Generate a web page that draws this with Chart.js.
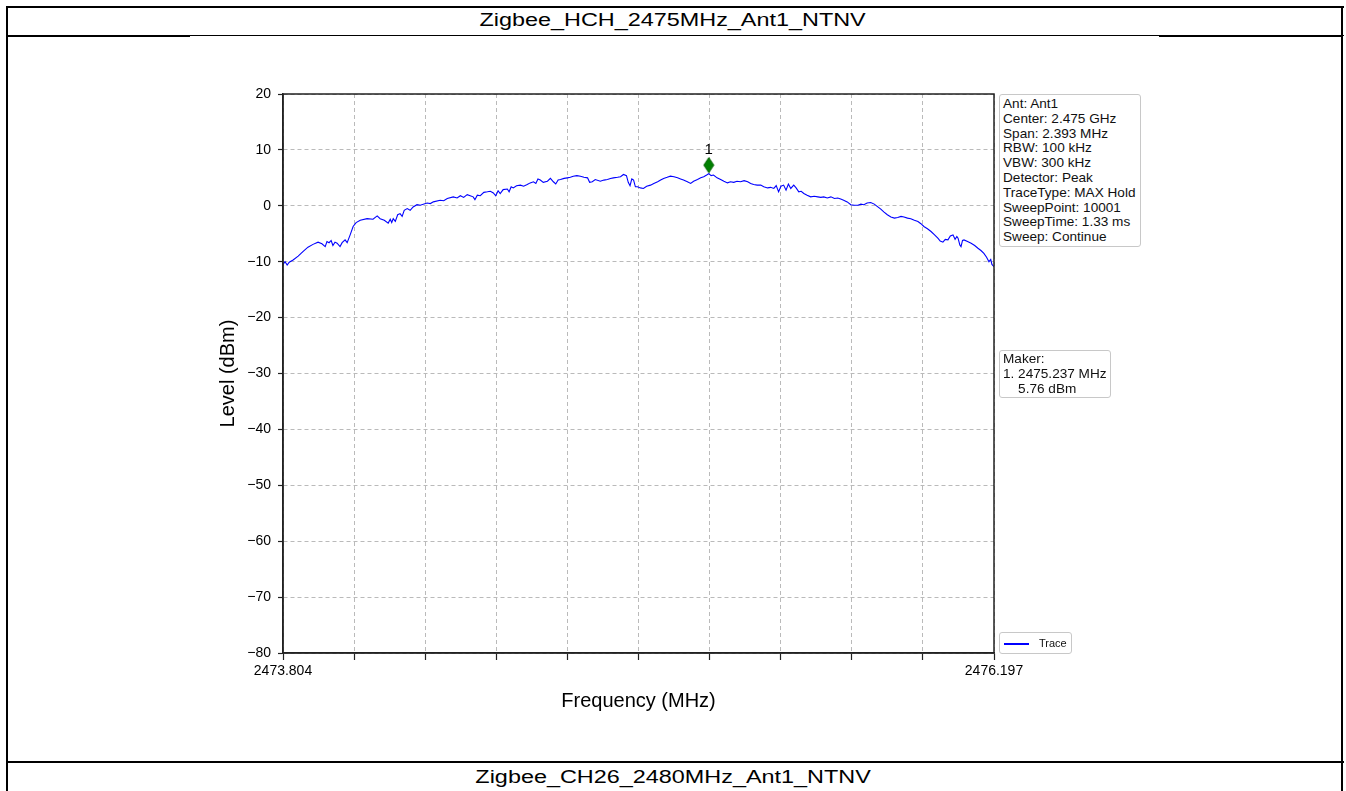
<!DOCTYPE html>
<html>
<head>
<meta charset="utf-8">
<script src="https://cdn.jsdelivr.net/npm/chart.js@4.4.0/dist/chart.umd.min.js"></script>
<style>
body { margin: 0; background: #fff; font-family: Arial, "Liberation Sans", sans-serif; }
#page { position: relative; width: 1346px; height: 791px; overflow: hidden; }
.ln { position: absolute; background: #000; }
.ttl { position: absolute; left: 0; width: 1346px; text-align: center; font-size: 18px; color: #000; }
.ttl span { display: inline-block; transform: scaleX(1.3); }
#wrap { position: absolute; left: 150px; top: 60px; width: 880px; height: 680px; }
.box { position: absolute; box-sizing: border-box; border: 1px solid #c8c8c8; border-radius: 3px; background: #fff;
  font-size: 13.6px; line-height: 14.8px; color: #111; white-space: pre; padding-left: 3px; }
</style>
</head>
<body>
<div id="page">
  <div class="ln" style="left:6px;top:6px;width:1338px;height:2px"></div>
  <div class="ln" style="left:6px;top:6px;width:2px;height:790px"></div>
  <div class="ln" style="left:1341px;top:6px;width:2px;height:790px"></div>
  <div class="ln" style="left:6px;top:35px;width:1338px;height:1px"></div>
  <div class="ln" style="left:6px;top:35px;width:184px;height:2px"></div>
  <div class="ln" style="left:1159px;top:35px;width:184px;height:2px"></div>
  <div class="ln" style="left:6px;top:761px;width:1338px;height:2px"></div>
  <div class="ttl" style="top:10px"><span>Zigbee_HCH_2475MHz_Ant1_NTNV</span></div>
  <div class="ttl" style="top:767px"><span>Zigbee_CH26_2480MHz_Ant1_NTNV</span></div>

  <div id="wrap"><canvas id="spec"></canvas></div>

  <div class="box" style="left:999px;top:94px;width:142px;height:153px;padding-top:2px">Ant: Ant1
Center: 2.475 GHz
Span: 2.393 MHz
RBW: 100 kHz
VBW: 300 kHz
Detector: Peak
TraceType: MAX Hold
SweepPoint: 10001
SweepTime: 1.33 ms
Sweep: Continue</div>
  <div class="box" style="left:999px;top:350px;width:112px;height:48px;padding-top:1px">Maker:
1. 2475.237 MHz
    5.76 dBm</div>
  <div class="box" style="left:999px;top:632px;width:73px;height:22px">
    <div style="position:absolute;left:4px;top:10px;width:25px;height:1.5px;background:#0000ff"></div>
    <div style="position:absolute;left:39px;top:3px;font-size:11px;line-height:14px">Trace</div>
  </div>
</div>

<script>
// trace (MHz / dBm)
const traceFreq = [
 2473.804, 2473.811, 2473.818, 2473.825, 2473.838, 2473.855, 2473.871, 2473.888, 2473.905, 2473.922,
 2473.935, 2473.946, 2473.952, 2473.959, 2473.966, 2473.972, 2473.979, 2473.986, 2473.996, 2474.003,
 2474.013, 2474.020, 2474.030, 2474.040, 2474.050, 2474.064, 2474.087, 2474.107, 2474.121, 2474.131,
 2474.145, 2474.158, 2474.165, 2474.170, 2474.175, 2474.182, 2474.190, 2474.198, 2474.205, 2474.212,
 2474.222, 2474.232, 2474.242, 2474.255, 2474.266, 2474.289, 2474.300, 2474.310, 2474.333, 2474.345,
 2474.357, 2474.377, 2474.390, 2474.401, 2474.412, 2474.424, 2474.434, 2474.444, 2474.450, 2474.458,
 2474.468, 2474.480, 2474.492, 2474.502, 2474.512, 2474.520, 2474.528, 2474.535, 2474.545, 2474.559,
 2474.565, 2474.572, 2474.579, 2474.590, 2474.603, 2474.614, 2474.626, 2474.636, 2474.647, 2474.655,
 2474.662, 2474.670, 2474.680, 2474.694, 2474.704, 2474.714, 2474.722, 2474.730, 2474.738, 2474.750,
 2474.761, 2474.771, 2474.781, 2474.793, 2474.805, 2474.817, 2474.829, 2474.836, 2474.845, 2474.855,
 2474.872, 2474.884, 2474.896, 2474.906, 2474.916, 2474.930, 2474.940, 2474.950, 2474.960, 2474.966,
 2474.972, 2474.978, 2474.984, 2474.990, 2474.997, 2475.007, 2475.017, 2475.028, 2475.041, 2475.052,
 2475.065, 2475.075, 2475.085, 2475.097, 2475.108, 2475.120, 2475.132, 2475.142, 2475.152, 2475.165,
 2475.176, 2475.186, 2475.199, 2475.210, 2475.220, 2475.230, 2475.237, 2475.245, 2475.253, 2475.265,
 2475.277, 2475.288, 2475.300, 2475.310, 2475.321, 2475.332, 2475.344, 2475.356, 2475.368, 2475.378,
 2475.388, 2475.400, 2475.412, 2475.422, 2475.435, 2475.445, 2475.456, 2475.464, 2475.472, 2475.480,
 2475.489, 2475.497, 2475.505, 2475.513, 2475.523, 2475.531, 2475.540, 2475.548, 2475.557, 2475.568,
 2475.580, 2475.592, 2475.604, 2475.614, 2475.624, 2475.636, 2475.648, 2475.660, 2475.671, 2475.681,
 2475.691, 2475.703, 2475.715, 2475.727, 2475.739, 2475.749, 2475.759, 2475.770, 2475.782, 2475.794,
 2475.806, 2475.816, 2475.826, 2475.838, 2475.850, 2475.862, 2475.873, 2475.884, 2475.894, 2475.906,
 2475.917, 2475.929, 2475.941, 2475.951, 2475.961, 2475.973, 2475.985, 2475.997, 2476.008, 2476.016,
 2476.025, 2476.033, 2476.042, 2476.050, 2476.059, 2476.066, 2476.072, 2476.076, 2476.082, 2476.086,
 2476.091, 2476.096, 2476.108, 2476.120, 2476.132, 2476.143, 2476.153, 2476.163, 2476.172, 2476.180,
 2476.186, 2476.190, 2476.197
]
const traceLevel = [
 -10.5, -10.0, -10.6, -10.1, -9.7, -9.0, -8.2, -7.4, -6.9, -6.5,
 -6.8, -7.3, -6.4, -6.6, -6.2, -7.1, -6.5, -6.7, -7.3, -6.6,
 -6.1, -6.6, -5.2, -3.7, -3.0, -2.6, -2.3, -2.4, -1.8, -2.3,
 -2.6, -3.1, -2.4, -3.0, -2.3, -2.8, -1.6, -1.4, -1.9, -0.8,
 -0.5, -0.8, -0.2, 0.2, 0.1, 0.5, 0.4, 0.7, 1.0, 0.9,
 1.3, 1.6, 1.4, 1.8, 1.5, 2.0, 1.8, 1.6, 1.1, 1.9,
 1.8, 2.4, 2.5, 2.6, 2.3, 1.8, 2.7, 2.2, 2.9, 3.0,
 2.5, 3.4, 3.2, 3.6, 3.7, 3.5, 3.8, 4.1, 4.3, 4.0,
 4.8, 4.6, 4.2, 4.4, 4.9, 4.3, 3.9, 4.6, 4.7, 4.9,
 5.0, 5.1, 5.3, 5.4, 5.3, 5.1, 5.0, 4.2, 4.3, 4.7,
 4.4, 4.6, 4.7, 4.9, 5.0, 5.1, 5.2, 5.6, 5.4, 4.2,
 3.6, 4.8, 4.6, 3.4, 3.4, 3.2, 3.1, 3.5, 3.7, 4.0,
 4.3, 4.6, 4.9, 5.1, 5.3, 5.2, 5.0, 4.8, 4.6, 4.3,
 4.0, 4.4, 4.7, 5.0, 5.2, 5.5, 5.76, 5.4, 5.5, 5.0,
 4.7, 4.4, 4.1, 4.3, 4.2, 4.4, 4.3, 4.5, 4.3, 4.0,
 3.8, 3.7, 3.7, 3.4, 3.2, 3.3, 3.1, 3.6, 2.5, 3.5,
 3.7, 2.8, 3.9, 3.1, 3.7, 3.2, 2.5, 2.6, 2.2, 1.9,
 1.6, 1.7, 1.6, 1.5, 1.6, 1.4, 1.6, 1.3, 1.4, 1.2,
 1.0, 0.7, 0.2, 0.1, 0.1, 0.3, 0.2, 0.5, 0.6, 0.3,
 -0.2, -0.6, -1.1, -1.6, -2.0, -2.2, -2.1, -1.9, -2.0, -2.2,
 -2.3, -2.6, -2.8, -3.2, -3.7, -4.1, -4.6, -5.2, -5.8, -6.3,
 -6.5, -6.0, -6.1, -5.4, -5.2, -6.0, -5.5, -5.8, -7.0, -7.3,
 -6.2, -6.1, -6.4, -6.7, -7.1, -7.6, -8.0, -8.5, -9.2, -10.0,
 -9.6, -10.5, -10.9
]

const markerFreq = [2475.237]
const markerLevel = [5.76]
const markerNames = ['1']

const freqTicks = [2473.804, 2474.0433, 2474.2826, 2474.5219, 2474.7612, 2475.0005,
                   2475.2398, 2475.4791, 2475.7184, 2475.9577, 2476.197]
const freqTickLabels = ['2473.804', '', '', '', '', '', '', '', '', '', '2476.197']
const levelMin = -80
const levelMax = 20

// diamond drawn a little above the marked point, like the reference
function diamondImg() {
    const c = document.createElement('canvas')
    c.width = 12
    c.height = 36
    const g = c.getContext('2d')
    const cx = 6, cy = 9.5
    g.fillStyle = '#008000'
    g.strokeStyle = '#006400'
    g.beginPath()
    g.moveTo(cx, cy - 7.5)
    g.lineTo(cx + 5, cy)
    g.lineTo(cx, cy + 7.5)
    g.lineTo(cx - 5, cy)
    g.closePath()
    g.fill()
    g.stroke()
    return c
}

const framePlugin = {
    id: 'frame',
    afterDatasetsDraw(chart) {
        const {ctx, chartArea: a} = chart
        ctx.save()
        ctx.strokeStyle = '#222'
        ctx.lineWidth = 1.5
        ctx.strokeRect(a.left, a.top, a.right - a.left, a.bottom - a.top)
        // marker number
        const meta = chart.getDatasetMeta(1)
        ctx.fillStyle = '#000'
        ctx.font = '15px Arial'
        ctx.textAlign = 'center'
        ctx.textBaseline = 'middle'
        meta.data.forEach((pt, i) => {
            ctx.fillText(markerNames[i], pt.x, pt.y - 24)
        })
        ctx.restore()
    }
}

const tracePts = traceFreq.map((f, i) => ({x: f, y: traceLevel[i]}))
const markerPts = markerFreq.map((f, i) => ({x: f, y: markerLevel[i]}))

new Chart(document.getElementById('spec'), {
    type: 'line',
    data: {
        datasets: [{
            label: 'Trace',
            data: tracePts,
            borderColor: '#0000ff',
            borderWidth: 1.1,
            pointRadius: 0,
            tension: 0
        }, {
            label: 'Marker',
            data: markerPts,
            showLine: false,
            pointStyle: diamondImg(),
            pointRadius: 6
        }]
    },
    options: {
        responsive: true,
        maintainAspectRatio: false,
        animation: false,
        layout: { padding: { top: 34, right: 36, left: 0, bottom: 0 } },
        plugins: { legend: { display: false }, tooltip: { enabled: false } },
        scales: {
            x: {
                type: 'linear',
                min: freqTicks[0],
                max: freqTicks[freqTicks.length - 1],
                afterBuildTicks(scale) { scale.ticks = freqTicks.map(v => ({value: v})) },
                afterFit(scale) { scale.height = 87 },
                ticks: {
                    autoSkip: false,
                    maxRotation: 0,
                    padding: 3,
                    color: '#000',
                    font: { family: 'Arial', size: 14 },
                    callback: (v, i) => freqTickLabels[i]
                },
                grid: {
                    color: '#a8a8a8',
                    lineWidth: 0.8,
                    tickLength: 7,
                    tickColor: '#222',
                    tickBorderDash: [],
                    tickWidth: 1.2
                },
                border: { color: '#222', width: 1.5, dash: [4, 3] },
                title: {
                    display: true,
                    text: 'Frequency (MHz)',
                    color: '#000',
                    font: { family: 'Arial', size: 20 },
                    padding: { top: 0, bottom: 27 }
                }
            },
            y: {
                min: levelMin,
                max: levelMax,
                afterFit(scale) { scale.width = 133 },
                ticks: {
                    stepSize: 10,
                    padding: 7,
                    color: '#000',
                    font: { family: 'Arial', size: 14 },
                    callback: v => String(v).replace('-', '\u2212')
                },
                grid: {
                    color: '#a8a8a8',
                    lineWidth: 0.8,
                    tickLength: 5,
                    tickColor: '#222',
                    tickBorderDash: [],
                    tickWidth: 1.2
                },
                border: { color: '#222', width: 1.5, dash: [4, 3] },
                title: {
                    display: true,
                    text: 'Level (dBm)',
                    color: '#000',
                    font: { family: 'Arial', size: 20 },
                    padding: { top: 66, bottom: 0 }
                }
            }
        }
    },
    plugins: [framePlugin]
})
</script>
</body>
</html>
